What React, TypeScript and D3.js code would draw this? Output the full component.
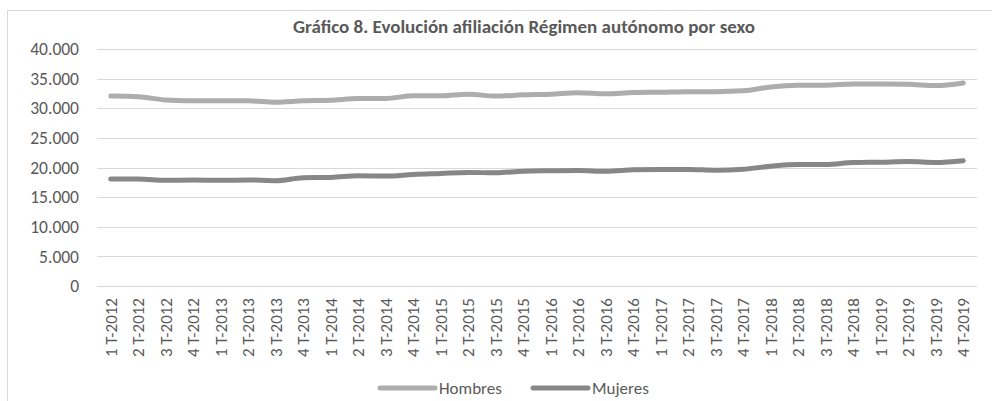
import React from 'react'
import * as d3 from 'd3'

const quarters = [
  '1 T-2012', '2 T-2012', '3 T-2012', '4 T-2012',
  '1 T-2013', '2 T-2013', '3 T-2013', '4 T-2013',
  '1 T-2014', '2 T-2014', '3 T-2014', '4 T-2014',
  '1 T-2015', '2 T-2015', '3 T-2015', '4 T-2015',
  '1 T-2016', '2 T-2016', '3 T-2016', '4 T-2016',
  '1 T-2017', '2 T-2017', '3 T-2017', '4 T-2017',
  '1 T-2018', '2 T-2018', '3 T-2018', '4 T-2018',
  '1 T-2019', '2 T-2019', '3 T-2019', '4 T-2019',
]

const hombres = [
  32050, 31950, 31400, 31270, 31250, 31250, 31000, 31250,
  31350, 31650, 31650, 32100, 32100, 32380, 32050, 32270,
  32380, 32600, 32430, 32660, 32720, 32800, 32800, 32940,
  33600, 33880, 33880, 34100, 34100, 34050, 33830, 34270,
]

const mujeres = [
  18050, 18050, 17830, 17900, 17830, 17900, 17780, 18280,
  18330, 18600, 18550, 18830, 19000, 19170, 19100, 19380,
  19450, 19500, 19350, 19600, 19680, 19680, 19550, 19700,
  20220, 20500, 20500, 20830, 20900, 21000, 20850, 21150,
]

const yTicks = [0, 5000, 10000, 15000, 20000, 25000, 30000, 35000, 40000]

const series = [
  { name: 'Hombres', values: hombres, color: '#adadad' },
  { name: 'Mujeres', values: mujeres, color: '#878787' },
]

const W = 992
const H = 401
const margin = { top: 49, right: 15, bottom: 115, left: 97 }
const font = 'Carlito, Lato, "Liberation Sans", sans-serif'
const textColor = '#595959'

const fmt = (v: number) => d3.format(',')(v).replace(/,/g, '.')

export default function App() {
  const x = d3.scaleBand<string>()
    .domain(quarters)
    .range([margin.left, W - margin.right])

  const y = d3.scaleLinear()
    .domain([0, 40000])
    .range([H - margin.bottom, margin.top])

  const cx = (q: string) => (x(q) as number) + x.bandwidth() / 2

  const line = d3.line<number>()
    .x((d, i) => cx(quarters[i]))
    .y(d => y(d))
    .curve(d3.curveMonotoneX)

  const legendX = [380, 533]

  return (
    <div style={{ position: 'absolute', left: 0, top: 0 }}>
      <svg width={W} height={H} style={{ display: 'block', background: '#fff' }}>
        {/* chart frame */}
        <rect x={7.5} y={10.5} width={1200} height={600} fill="none" stroke="#d9d9d9" strokeWidth={1} />

        <text x={524} y={33} textAnchor="middle" fontFamily={font} fontWeight="bold"
          fontSize={19} fill={textColor}>
          Gráfico 8. Evolución afiliación Régimen autónomo por sexo
        </text>

        {/* gridlines and y labels */}
        {yTicks.map(t => (
          <g key={t}>
            <line x1={margin.left} x2={W - margin.right} y1={Math.round(y(t)) + 0.5} y2={Math.round(y(t)) + 0.5}
              stroke="#d9d9d9" strokeWidth={1} />
            <text x={79} y={y(t)} dy="0.35em" textAnchor="end" fontFamily={font}
              fontSize={17.5} fill={textColor}>{fmt(t)}</text>
          </g>
        ))}

        {/* x labels */}
        {quarters.map(q => (
          <text key={q} transform={`translate(${cx(q)},${y(0) + 12}) rotate(-90)`}
            dy="0.35em" textAnchor="end" fontFamily={font} fontSize={17} fill={textColor}>
            {q}
          </text>
        ))}

        {/* lines */}
        {series.map(s => (
          <path key={s.name} d={line(s.values) as string} fill="none" stroke={s.color}
            strokeWidth={5} strokeLinecap="round" strokeLinejoin="round" />
        ))}

        {/* legend */}
        {series.map((s, i) => (
          <g key={s.name} transform={`translate(${legendX[i]},388)`}>
            <line x1={0} x2={55} y1={0} y2={0} stroke={s.color} strokeWidth={5} strokeLinecap="round" />
            <text x={59} y={0} dy="0.35em" fontFamily={font} fontSize={17} fill={textColor}>{s.name}</text>
          </g>
        ))}
      </svg>
    </div>
  )
}
